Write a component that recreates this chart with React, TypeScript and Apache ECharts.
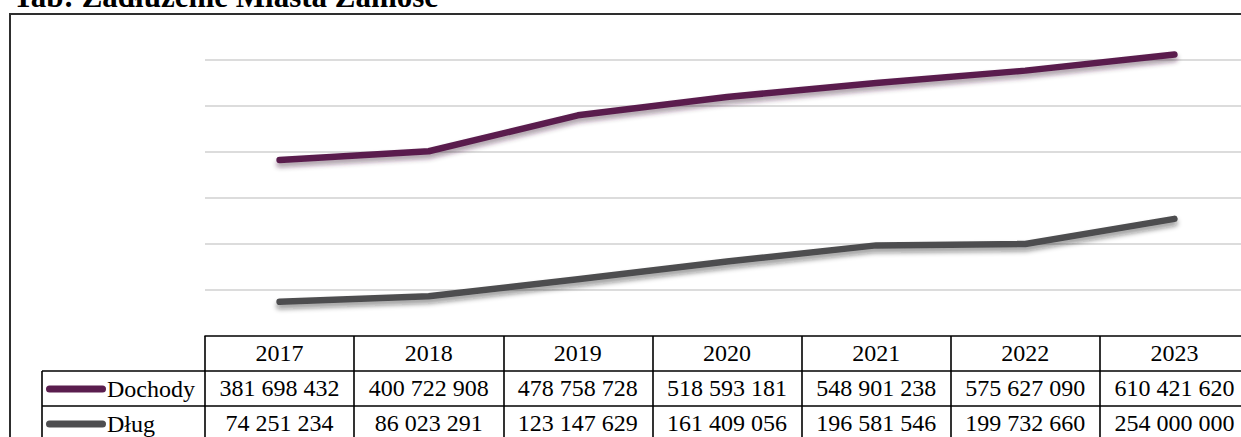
import React, { useEffect, useRef } from "react";
import * as echarts from "echarts";

const years = ["2017", "2018", "2019", "2020", "2021", "2022", "2023"];
const dochody = [381698432, 400722908, 478758728, 518593181, 548901238, 575627090, 610421620];
const dlug = [74251234, 86023291, 123147629, 161409056, 196581546, 199732660, 254000000];
const seriesNames = ["Dochody", "Dług"];
const titleText = "Tab: Zadłużenie Miasta Zamość";

const fmt = (v: number) => String(v).replace(/\B(?=(\d{3})+(?!\d))/g, " ");

const SERIF = "'Liberation Serif', 'Times New Roman', serif";
const PURPLE = "#5a1d4e";
const GRAY = "#4e4e50";

export default function App() {
  const ref = useRef<HTMLDivElement>(null);
  useEffect(() => {
    if (!ref.current) return;
    const chart = echarts.init(ref.current, undefined, { renderer: "svg" });
    const axisY = 336;
    const rowH = 35;
    const gridLeft = 205;
    const gridRight = 11;
    const tableLeft = 42;
    const scale = 1e8;
    const capsule = "path://M3.5,0 H56.5 A3.5,3.5 0 0 1 56.5,7 H3.5 A3.5,3.5 0 0 1 3.5,0 Z";

    const labelStyle = {
      interval: 0,
      fontFamily: SERIF,
      fontSize: 24,
      color: "#000",
      margin: 5,
    };
    const lineAxis = { show: true, lineStyle: { color: "#000", width: 1.6 } };
    const tickAxis = { show: true, length: rowH, lineStyle: { color: "#000", width: 1.6 } };

    const xAxes = [years, dochody.map(fmt), dlug.map(fmt)].map((d, i) => ({
      type: "category",
      data: d,
      position: "bottom",
      offset: i * rowH,
      boundaryGap: true,
      axisLine: lineAxis,
      axisTick: tickAxis,
      axisLabel: labelStyle,
      splitLine: { show: false },
    }));

    const gridColors = ["transparent", "#d0d0d0", "#d0d0d0", "#d0d0d0", "#d0d0d0", "#d0d0d0", "#d0d0d0", "transparent"];

    const option: any = {
      animation: false,
      backgroundColor: "#fff",
      grid: { left: gridLeft, right: gridRight, top: axisY - 7 * 46.1, bottom: 437 - axisY },
      xAxis: xAxes,
      yAxis: {
        type: "value",
        min: 0,
        max: 7,
        interval: 1,
        axisLabel: { show: false },
        axisLine: { show: false },
        axisTick: { show: false },
        splitLine: { show: true, lineStyle: { color: gridColors, width: 1.5 } },
      },
      legend: [0, 1].map((i) => ({
        data: [seriesNames[i]],
        left: tableLeft + 4,
        top: axisY + rowH * (i + 1) + 1,
        itemWidth: 60,
        itemHeight: 7,
        itemGap: 0,
        icon: capsule,
        padding: [5, 0, 5, 0],
        textStyle: { fontFamily: SERIF, fontSize: 24, color: "#000", padding: [0, 0, 0, -4] },
      })),
      series: [
        {
          name: seriesNames[0],
          type: "line",
          data: dochody.map((v) => v / scale),
          showSymbol: false,
          symbol: "none",
          itemStyle: { color: PURPLE },
          lineStyle: {
            color: PURPLE,
            width: 6.5,
            cap: "round",
            join: "round",
            shadowColor: "rgba(60,20,50,0.45)",
            shadowBlur: 5,
            shadowOffsetY: 4,
          },
        },
        {
          name: seriesNames[1],
          type: "line",
          data: dlug.map((v) => v / scale),
          showSymbol: false,
          symbol: "none",
          itemStyle: { color: GRAY },
          lineStyle: {
            color: GRAY,
            width: 6.5,
            cap: "round",
            join: "round",
            shadowColor: "rgba(30,30,30,0.45)",
            shadowBlur: 5,
            shadowOffsetY: 4,
          },
        },
      ],
      graphic: [
        {
          type: "rect",
          shape: { x: 10, y: 14, width: 1400, height: 600 },
          style: { fill: "none", stroke: "#2e2e2e", lineWidth: 2 },
          z: 0,
        },
        {
          type: "text",
          x: 13,
          y: 12,
          style: {
            text: titleText,
            font: `bold 31px ${SERIF}`,
            fill: "#000",
            verticalAlign: "bottom",
          },
        },
        {
          type: "line",
          shape: { x1: tableLeft, y1: axisY + rowH, x2: gridLeft, y2: axisY + rowH },
          style: { stroke: "#000", lineWidth: 1.6 },
        },
        {
          type: "line",
          shape: { x1: tableLeft, y1: axisY + 2 * rowH, x2: gridLeft, y2: axisY + 2 * rowH },
          style: { stroke: "#000", lineWidth: 1.6 },
        },
        {
          type: "line",
          shape: { x1: tableLeft, y1: axisY + rowH, x2: tableLeft, y2: axisY + 3 * rowH },
          style: { stroke: "#000", lineWidth: 1.6 },
        },
      ],
    };
    chart.setOption(option);
    return () => chart.dispose();
  }, []);

  return (
    <div
      style={{
        position: "fixed",
        left: 0,
        top: 0,
        width: 1241,
        height: 437,
        overflow: "hidden",
        background: "#fff",
      }}
    >
      <div ref={ref} style={{ width: 1260, height: 437 }} />
    </div>
  );
}
